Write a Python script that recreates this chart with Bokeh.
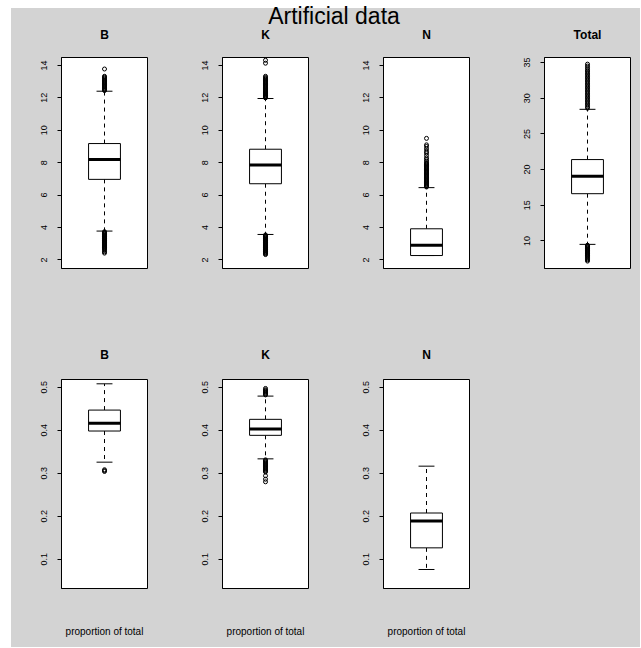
from bokeh.plotting import figure
from bokeh.layouts import row, column
from bokeh.models import Range1d, FixedTicker, Spacer, LinearAxis, Div
from bokeh.embed import file_html
from bokeh.resources import INLINE

GRAY = "#d3d3d3"
FONT = "Liberation Sans"

# ---------------- data ----------------
main_title = "Artificial data"
xlabel_text = "proportion of total"

top_labels = ["B", "K", "N", "Total"]
top_q1 = [6.97, 6.70, 2.27, 16.62]
top_median = [8.19, 7.86, 2.91, 19.05]
top_q3 = [9.18, 8.83, 3.92, 21.40]
top_lower_whisker = [3.78, 3.57, 2.27, 9.52]
top_upper_whisker = [12.41, 11.96, 6.46, 28.44]

out_B = [12.45, 12.5, 12.55, 12.6, 12.65, 12.7, 12.75, 12.8, 12.85, 12.9, 12.95, 13.0,
         13.05, 13.1, 13.16, 13.22, 13.28, 13.33, 13.78,
         3.74, 3.7, 3.66, 3.62, 3.58, 3.54, 3.5, 3.46, 3.42, 3.38, 3.34, 3.3, 3.26, 3.22,
         3.18, 3.14, 3.1, 3.06, 3.02, 2.98, 2.94, 2.9, 2.86, 2.82, 2.78, 2.74, 2.7, 2.65,
         2.58, 2.5, 2.42]
out_K = [12.0, 12.04, 12.08, 12.12, 12.16, 12.2, 12.24, 12.28, 12.32, 12.36, 12.4, 12.45,
         12.5, 12.55, 12.6, 12.65, 12.7, 12.75, 12.8, 12.85, 12.9, 12.95, 13.0, 13.05, 13.1,
         13.15, 13.2, 13.26, 13.33, 14.14, 14.32,
         3.54, 3.5, 3.46, 3.42, 3.38, 3.34, 3.3, 3.26, 3.22, 3.18, 3.14, 3.1, 3.06, 3.02,
         2.98, 2.94, 2.9, 2.86, 2.82, 2.78, 2.74, 2.7, 2.66, 2.62, 2.58, 2.54, 2.5, 2.46,
         2.42, 2.38, 2.33]
out_N = [6.5, 6.55, 6.6, 6.65, 6.7, 6.75, 6.8, 6.85, 6.9, 6.95, 7.0, 7.05, 7.1, 7.15, 7.2,
         7.25, 7.3, 7.35, 7.4, 7.45, 7.5, 7.55, 7.6, 7.65, 7.7, 7.75, 7.8, 7.85, 7.9, 7.95,
         8.0, 8.1, 8.2, 8.3, 8.45, 8.6, 8.7, 8.85, 9.0, 9.1, 9.5]
out_Total = [28.6, 28.8, 29.0, 29.2, 29.4, 29.6, 29.8, 30.0, 30.2, 30.4, 30.6, 30.8, 31.0,
             31.2, 31.4, 31.6, 31.8, 32.0, 32.2, 32.4, 32.6, 32.8, 33.0, 33.2, 33.4, 33.6,
             33.8, 34.0, 34.25, 34.5, 34.77,
             9.4, 9.3, 9.2, 9.1, 9.0, 8.9, 8.8, 8.7, 8.6, 8.5, 8.4, 8.3, 8.2, 8.1, 8.0, 7.9,
             7.8, 7.65, 7.5, 7.35, 7.18]
top_outliers = [out_B, out_K, out_N, out_Total]

prop_labels = ["B", "K", "N"]
prop_q1 = [0.398, 0.388, 0.1264]
prop_median = [0.4159, 0.4027, 0.1889]
prop_q3 = [0.4467, 0.4252, 0.2074]
prop_lower_whisker = [0.3256, 0.3333, 0.0761]
prop_upper_whisker = [0.5078, 0.4792, 0.3163]
prop_out_B = [0.308, 0.306, 0.304]
prop_out_K = [0.482, 0.484, 0.486, 0.488, 0.49, 0.492, 0.494, 0.497,
              0.331, 0.329, 0.327, 0.325, 0.323, 0.321, 0.319, 0.317, 0.315, 0.313,
              0.311, 0.309, 0.307, 0.305, 0.303, 0.294, 0.286, 0.28]
prop_out_N = []
prop_outliers = [prop_out_B, prop_out_K, prop_out_N]

count_ticks = [2, 4, 6, 8, 10, 12, 14]
total_ticks = [10, 15, 20, 25, 30, 35]
prop_ticks = [0.1, 0.2, 0.3, 0.4, 0.5]

count_range = (1.47, 14.49)
total_range = (6.14, 35.7)
prop_range = (0.0319, 0.5178)


def text_axis(text, size, bold, standoff):
    ax = LinearAxis(ticker=FixedTicker(ticks=[1]), major_label_overrides={1: text})
    ax.axis_line_color = None
    ax.major_tick_line_color = None
    ax.minor_tick_line_color = None
    ax.major_tick_out = 0
    ax.major_tick_in = 0
    ax.minor_tick_out = 0
    ax.minor_tick_in = 0
    ax.major_label_standoff = standoff
    ax.major_label_text_font = FONT
    ax.major_label_text_font_size = size
    ax.major_label_text_font_style = "bold" if bold else "normal"
    ax.major_label_text_color = "black"
    return ax


def make_panel(label, q1, med, q3, lo, hi, outl, yr, ticks, width, height,
               b_right, b_top, b_bottom, head_standoff, xlabel=None):
    p = figure(width=width, height=height,
               x_range=Range1d(0.46, 1.54), y_range=Range1d(*yr),
               x_axis_location=None, toolbar_location=None, output_backend="svg",
               min_border_left=50, min_border_right=b_right,
               min_border_top=b_top, min_border_bottom=b_bottom,
               background_fill_color="white", border_fill_color=GRAY,
               outline_line_color="black", outline_line_width=1)
    p.grid.grid_line_color = None

    ax = p.yaxis[0]
    ax.ticker = FixedTicker(ticks=ticks)
    ax.major_label_orientation = "vertical"
    ax.major_label_text_font = FONT
    ax.major_label_text_font_size = "9px"
    ax.major_label_text_color = "black"
    ax.major_tick_out = 4
    ax.major_tick_in = 0
    ax.minor_tick_out = 0
    ax.minor_tick_in = 0
    ax.major_label_standoff = 10
    ax.axis_line_color = "black"
    ax.major_tick_line_color = "black"

    # panel heading and optional x label as text-only axes
    p.add_layout(text_axis(label, "12px", True, head_standoff), "above")
    if xlabel:
        p.add_layout(text_axis(xlabel, "10px", False, 37), "below")

    # whiskers (dashed)
    p.segment(x0=[1, 1], x1=[1, 1], y0=[q3, q1], y1=[hi, lo],
              line_color="black", line_width=1, line_dash="4 4")
    # staples
    p.segment(x0=[0.9, 0.9], x1=[1.1, 1.1], y0=[hi, lo], y1=[hi, lo],
              line_color="black", line_width=1)
    # box
    p.quad(left=[0.8], right=[1.2], bottom=[q1], top=[q3],
           fill_color="white", line_color="black", line_width=1)
    # median
    p.segment(x0=[0.8], x1=[1.2], y0=[med], y1=[med], line_color="black", line_width=3)
    # outliers
    if outl:
        p.scatter(x=[1] * len(outl), y=outl, marker="circle", size=4,
                  fill_color=None, line_color="black", line_width=1)
    return p


col_widths = [161, 161, 161, 146]
col_right = [25, 25, 25, 10]
TITLE_H = 16
TOP_H = 306
BOT_H = 317
W = sum(col_widths)

top_figs = []
for i, lab in enumerate(top_labels):
    is_total = lab == "Total"
    top_figs.append(make_panel(
        lab, top_q1[i], top_median[i], top_q3[i], top_lower_whisker[i], top_upper_whisker[i],
        top_outliers[i], total_range if is_total else count_range,
        total_ticks if is_total else count_ticks,
        col_widths[i], TOP_H, col_right[i], 33, 62, 16))

bot_figs = []
for i, lab in enumerate(prop_labels):
    bot_figs.append(make_panel(
        lab, prop_q1[i], prop_median[i], prop_q3[i], prop_lower_whisker[i],
        prop_upper_whisker[i], prop_outliers[i], prop_range, prop_ticks,
        col_widths[i], BOT_H, col_right[i], 49, 59, 18, xlabel=xlabel_text))
bot_figs.append(Spacer(width=col_widths[3], height=BOT_H))

title_div = Div(
    text=('<div style="width:%dpx;height:%dpx;padding-left:17px;box-sizing:border-box;'
          'text-align:center;font-family:\'Liberation Sans\',Arial,sans-serif;'
          'font-size:23px;line-height:16px;color:black;white-space:nowrap;">%s</div>'
          % (W, TITLE_H, main_title)),
    width=W, height=TITLE_H, margin=0)

inner = column(title_div, row(*top_figs), row(*bot_figs), styles={"background-color": GRAY})
layout = column(Spacer(width=11 + W, height=8),
                row(Spacer(width=11, height=TITLE_H + TOP_H + BOT_H), inner))

open("out.html", "w").write(file_html(layout, INLINE))
